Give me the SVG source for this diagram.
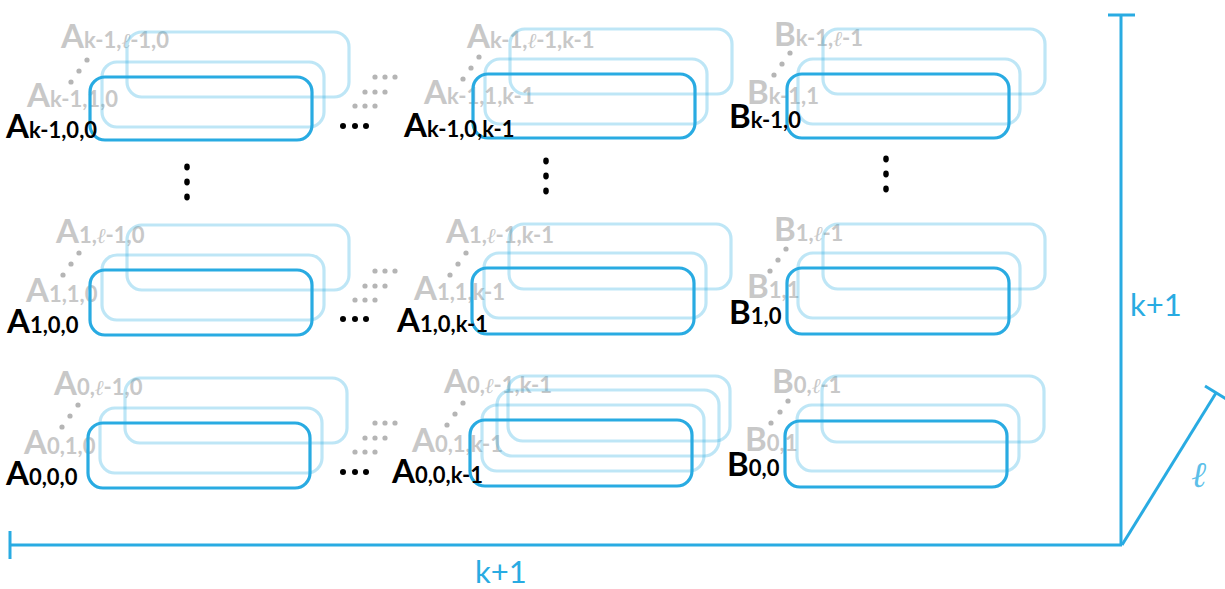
<svg xmlns="http://www.w3.org/2000/svg" width="1225" height="589" viewBox="0 0 1225 589">
<defs>
<style>
.front{fill:none;stroke:#29abe2;stroke-width:3.2}
.light{fill:none;stroke:#29abe2;stroke-opacity:0.3;stroke-width:3.2}
.blk{fill:#000;font-family:Lato,"Open Sans",sans-serif;font-weight:700}
.gry{fill:#c8c8c8;font-family:Lato,"Open Sans",sans-serif;font-weight:700}
.big{font-size:33px}
.sub{font-size:22px}
.ell{font-family:"DejaVu Serif","Liberation Serif",serif;font-style:italic;font-weight:400;font-size:21px}
.gd{fill:#b5b5b5}
.bd{fill:#000}
.axis{stroke:#29abe2;stroke-width:3;fill:none}
.axl{fill:#29abe2;font-family:Lato,"Open Sans",sans-serif;font-size:31px}
</style>
</defs>
<rect width="1225" height="589" fill="#fff"/>

<g id="dots">
<circle class="gd" cx="87" cy="60" r="2.6"/><circle class="gd" cx="79" cy="71" r="2.6"/><circle class="gd" cx="71" cy="82" r="2.6"/>
<circle class="gd" cx="479" cy="57" r="2.6"/><circle class="gd" cx="471" cy="68" r="2.6"/><circle class="gd" cx="463" cy="79" r="2.6"/>
<circle class="gd" cx="790" cy="53" r="2.6"/><circle class="gd" cx="782" cy="64" r="2.6"/><circle class="gd" cx="774" cy="75" r="2.6"/>
<circle class="gd" cx="79" cy="253" r="2.6"/><circle class="gd" cx="71" cy="264" r="2.6"/><circle class="gd" cx="63" cy="275" r="2.6"/>
<circle class="gd" cx="466" cy="253" r="2.6"/><circle class="gd" cx="458" cy="264" r="2.6"/><circle class="gd" cx="450" cy="275" r="2.6"/>
<circle class="gd" cx="786" cy="249" r="2.6"/><circle class="gd" cx="778" cy="260" r="2.6"/><circle class="gd" cx="770" cy="271" r="2.6"/>
<circle class="gd" cx="78" cy="405" r="2.6"/><circle class="gd" cx="70" cy="416" r="2.6"/><circle class="gd" cx="62" cy="427" r="2.6"/>
<circle class="gd" cx="463" cy="403" r="2.6"/><circle class="gd" cx="455" cy="414" r="2.6"/><circle class="gd" cx="447" cy="425" r="2.6"/>
<circle class="gd" cx="788" cy="401" r="2.6"/><circle class="gd" cx="780" cy="412" r="2.6"/><circle class="gd" cx="771" cy="423" r="2.6"/>
<g id="grid-top">
<circle class="gd" cx="375" cy="77" r="2.6"/><circle class="gd" cx="385" cy="77" r="2.6"/><circle class="gd" cx="395" cy="77" r="2.6"/>
<circle class="gd" cx="365" cy="92" r="2.6"/><circle class="gd" cx="375" cy="92" r="2.6"/><circle class="gd" cx="385" cy="92" r="2.6"/>
<circle class="gd" cx="355" cy="106" r="2.6"/><circle class="gd" cx="365" cy="106" r="2.6"/><circle class="gd" cx="375" cy="106" r="2.6"/>
</g>
<use href="#grid-top" y="194"/>
<use href="#grid-top" y="346"/>
<circle class="bd" cx="343" cy="126" r="3"/><circle class="bd" cx="355" cy="126" r="3"/><circle class="bd" cx="366" cy="126" r="3"/>
<circle class="bd" cx="343" cy="319" r="3"/><circle class="bd" cx="355" cy="319" r="3"/><circle class="bd" cx="366" cy="319" r="3"/>
<circle class="bd" cx="343" cy="472" r="3"/><circle class="bd" cx="355" cy="472" r="3"/><circle class="bd" cx="366" cy="472" r="3"/>
<ellipse class="bd" cx="187" cy="167" rx="2.8" ry="3.4"/><ellipse class="bd" cx="187" cy="182" rx="2.8" ry="3.4"/><ellipse class="bd" cx="187" cy="197" rx="2.8" ry="3.4"/>
<ellipse class="bd" cx="546" cy="161" rx="2.8" ry="3.4"/><ellipse class="bd" cx="546" cy="176" rx="2.8" ry="3.4"/><ellipse class="bd" cx="546" cy="191" rx="2.8" ry="3.4"/>
<ellipse class="bd" cx="886" cy="159" rx="2.8" ry="3.4"/><ellipse class="bd" cx="886" cy="174" rx="2.8" ry="3.4"/><ellipse class="bd" cx="886" cy="189" rx="2.8" ry="3.4"/>
</g>

<g id="gray-labels">
<text class="gry" x="61" y="48"><tspan class="big">A</tspan><tspan class="sub">k-1,<tspan class="ell">ℓ</tspan>-1,0</tspan></text>
<text class="gry" x="27" y="107"><tspan class="big">A</tspan><tspan class="sub">k-1,1,0</tspan></text>
<text class="gry" x="467" y="48"><tspan class="big">A</tspan><tspan class="sub">k-1,<tspan class="ell">ℓ</tspan>-1,k-1</tspan></text>
<text class="gry" x="424" y="104"><tspan class="big">A</tspan><tspan class="sub">k-1,1,k-1</tspan></text>
<text class="gry" x="774" y="46"><tspan class="big">B</tspan><tspan class="sub">k-1,<tspan class="ell">ℓ</tspan>-1</tspan></text>
<text class="gry" x="747" y="104"><tspan class="big">B</tspan><tspan class="sub">k-1,1</tspan></text>
<text class="gry" x="56" y="243"><tspan class="big">A</tspan><tspan class="sub">1,<tspan class="ell">ℓ</tspan>-1,0</tspan></text>
<text class="gry" x="26" y="302"><tspan class="big">A</tspan><tspan class="sub">1,1,0</tspan></text>
<text class="gry" x="446" y="243"><tspan class="big">A</tspan><tspan class="sub">1,<tspan class="ell">ℓ</tspan>-1,k-1</tspan></text>
<text class="gry" x="414" y="300"><tspan class="big">A</tspan><tspan class="sub">1,1,k-1</tspan></text>
<text class="gry" x="774" y="241"><tspan class="big">B</tspan><tspan class="sub">1,<tspan class="ell">ℓ</tspan>-1</tspan></text>
<text class="gry" x="747" y="298"><tspan class="big">B</tspan><tspan class="sub">1,1</tspan></text>
<text class="gry" x="54" y="395"><tspan class="big">A</tspan><tspan class="sub">0,<tspan class="ell">ℓ</tspan>-1,0</tspan></text>
<text class="gry" x="24" y="454"><tspan class="big">A</tspan><tspan class="sub">0,1,0</tspan></text>
<text class="gry" x="444" y="393"><tspan class="big">A</tspan><tspan class="sub">0,<tspan class="ell">ℓ</tspan>-1,k-1</tspan></text>
<text class="gry" x="412" y="452"><tspan class="big">A</tspan><tspan class="sub">0,1,k-1</tspan></text>
<text class="gry" x="772" y="393"><tspan class="big">B</tspan><tspan class="sub">0,<tspan class="ell">ℓ</tspan>-1</tspan></text>
<text class="gry" x="745" y="451"><tspan class="big">B</tspan><tspan class="sub">0,1</tspan></text>
</g>

<g id="stack-A-k1-0">
<rect class="light" x="127" y="32" width="222" height="65" rx="15"/>
<rect class="light" x="102" y="62" width="222" height="65" rx="15"/>
<rect class="front" x="90" y="77" width="222" height="63" rx="15"/>
</g>
<g id="stack-A-k1-k1">
<rect class="light" x="510" y="29" width="222" height="65" rx="15"/>
<rect class="light" x="485" y="59" width="222" height="65" rx="15"/>
<rect class="front" x="473" y="74" width="222" height="64" rx="15"/>
</g>
<g id="stack-B-k1">
<rect class="light" x="823" y="29" width="222" height="65" rx="15"/>
<rect class="light" x="798" y="59" width="222" height="65" rx="15"/>
<rect class="front" x="787" y="74" width="222" height="64" rx="15"/>
</g>
<g id="stack-A-1-0">
<rect class="light" x="127" y="225" width="222" height="65" rx="15"/>
<rect class="light" x="102" y="255" width="222" height="65" rx="15"/>
<rect class="front" x="90" y="270" width="222" height="65" rx="15"/>
</g>
<g id="stack-A-1-k1">
<rect class="light" x="509" y="224" width="222" height="65" rx="15"/>
<rect class="light" x="484" y="253" width="222" height="65" rx="15"/>
<rect class="front" x="472" y="268" width="222" height="66" rx="15"/>
</g>
<g id="stack-B-1">
<rect class="light" x="823" y="224" width="222" height="65" rx="15"/>
<rect class="light" x="798" y="253" width="222" height="65" rx="15"/>
<rect class="front" x="787" y="268" width="222" height="66" rx="15"/>
</g>
<g id="stack-A-0-0">
<rect class="light" x="125" y="378" width="222" height="65" rx="15"/>
<rect class="light" x="100" y="408" width="222" height="65" rx="15"/>
<rect class="front" x="88" y="423" width="222" height="65" rx="15"/>
</g>
<g id="stack-A-0-k1">
<rect class="light" x="508" y="376" width="222" height="65" rx="15"/>
<rect class="light" x="497" y="390" width="222" height="66" rx="15"/>
<rect class="light" x="482" y="405" width="222" height="66" rx="15"/>
<rect class="front" x="470" y="420" width="222" height="66" rx="15"/>
</g>
<g id="stack-B-0">
<rect class="light" x="822" y="376" width="222" height="66" rx="15"/>
<rect class="light" x="797" y="405" width="222" height="66" rx="15"/>
<rect class="front" x="785" y="421" width="222" height="66" rx="15"/>
</g>

<g id="labels">
<text class="blk" x="6" y="138"><tspan class="big">A</tspan><tspan class="sub">k-1,0,0</tspan></text>
<text class="blk" x="404" y="137"><tspan class="big">A</tspan><tspan class="sub">k-1,0,k-1</tspan></text>
<text class="blk" x="729" y="128"><tspan class="big">B</tspan><tspan class="sub">k-1,0</tspan></text>
<text class="blk" x="7" y="333"><tspan class="big">A</tspan><tspan class="sub">1,0,0</tspan></text>
<text class="blk" x="397" y="332"><tspan class="big">A</tspan><tspan class="sub">1,0,k-1</tspan></text>
<text class="blk" x="729" y="324"><tspan class="big">B</tspan><tspan class="sub">1,0</tspan></text>
<text class="blk" x="6" y="485"><tspan class="big">A</tspan><tspan class="sub">0,0,0</tspan></text>
<text class="blk" x="392" y="483"><tspan class="big">A</tspan><tspan class="sub">0,0,k-1</tspan></text>
<text class="blk" x="727" y="476"><tspan class="big">B</tspan><tspan class="sub">0,0</tspan></text>
</g>

<g id="axes">
<line class="axis" x1="10" y1="545" x2="1122" y2="545"/>
<line class="axis" x1="10" y1="531" x2="10" y2="559"/>
<line class="axis" x1="1121" y1="15" x2="1121" y2="545"/>
<line class="axis" x1="1108" y1="15" x2="1135" y2="15"/>
<line class="axis" x1="1122" y1="545" x2="1216" y2="393"/>
<line class="axis" x1="1205" y1="386" x2="1228" y2="400"/>
<text class="axl" x="475" y="583">k+1</text>
<text class="axl" x="1130" y="316">k+1</text>
<text x="1191" y="487" fill="#5cbfe9" font-family="DejaVu Serif, Liberation Serif, serif" font-style="italic" font-size="36">ℓ</text>
</g>
</svg>
